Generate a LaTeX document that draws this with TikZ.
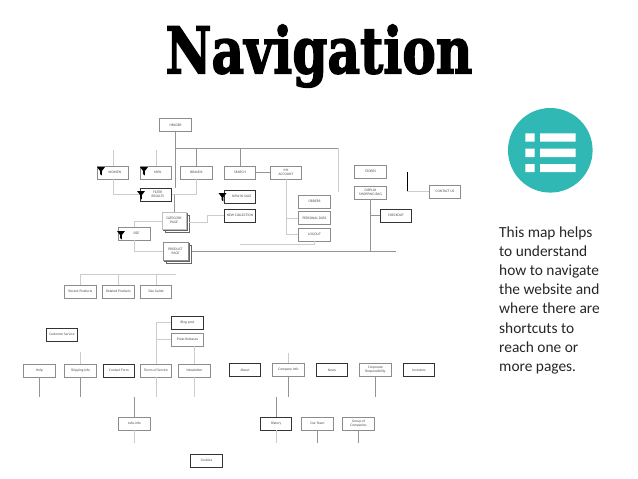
\documentclass[tikz,border=0pt]{standalone}
\usepackage{fontspec}
\setmainfont{Carlito}
\newfontfamily\titlefont[BoldFeatures={FakeBold=2.5}]{DejaVu Serif}
\usepackage{tikz}
\usetikzlibrary{positioning,calc}
\definecolor{tealround}{HTML}{30B8B5}

\tikzset{
	navbox/.style={shape=rectangle,draw=black!45,fill=white,line width=0.6pt,minimum width=31.5pt,minimum height=13pt,inner sep=0pt,align=center,font=\fontsize{3.6}{4}\selectfont,text=black!70},
	darkbox/.style={navbox,draw=black!80},
	link/.style={draw=black!42,line width=0.7pt},
	faint/.style={draw=black!20,line width=0.6pt},
	funnel/.pic={
		\fill[black] (-4,-4) -- (4,-4) -- (0.9,0) -- (0.9,4.5) -- (-0.9,3) -- (-0.9,0) -- cycle;
	}
}

\begin{document}
\begin{tikzpicture}[x=1pt,y=-1pt]
		\useasboundingbox (0,0) rectangle (638,479);

		\node[font=\titlefont\bfseries\fontsize{64}{64}\selectfont,xscale=0.785,transform shape] (title) at (319,56) {Navigation};

		% round icon
		\node[shape=circle,fill=tealround,minimum size=84.6pt,inner sep=0pt] (icon) at (550.3,150.3) {};
		\fill[white] (525.3,133.3) rectangle (534.7,141.7) (540,133.3) rectangle (575.7,141.7);
		\fill[white] (525.3,148.7) rectangle (534.7,157) (540,148.7) rectangle (575.7,157);
		\fill[white] (525.3,164) rectangle (534.7,172) (540,164) rectangle (575.7,172);

		\node[anchor=north west,align=left,inner sep=0pt,font=\fontsize{15.4}{19.15}\selectfont,text=black!85] (caption) at (499,226.5) {This map helps\\to understand\\how to navigate\\the website and\\where there are\\shortcuts to\\reach one or\\more pages.};

		% upper part
		\node[navbox] (header) at (175.5,125) {HEADER};
		\node[navbox] (women) at (113,172.5) {\quad WOMEN};
		\node[navbox] (men) at (156,172.5) {\quad MEN};
		\node[navbox] (brands) at (196.5,172.5) {BRANDS};
		\node[navbox] (search) at (240,172.5) {SEARCH};
		\node[navbox] (account) at (286,172.5) {MY\\ACCOUNT};
		\node[darkbox] (filter) at (156,194.5) {\quad FILTER\\\quad RESULTS};
		\node[darkbox] (sale) at (240,196.5) {\quad NEW IN SALE};
		\node[darkbox] (wishlist) at (240,215.5) {NEW COLLECTION};
		\node[navbox] (orders) at (314.5,201.5) {ORDERS};
		\node[navbox] (details) at (314.5,218) {PERSONAL DATA};
		\node[navbox] (logout) at (314.5,234.5) {LOGOUT};
		\node[navbox] (stores) at (370.5,171.5) {STORES};
		\node[navbox] (bag) at (370.5,192.5) {DISPLAY\\SHOPPING BAG};
		\node[darkbox] (checkout) at (396,215.5) {CHECKOUT};
		\node[navbox] (contact) at (445,191.5) {CONTACT US};
		\node[navbox] (size) at (134.5,233.5) {\quad SIZE};

		% page stacks
		\node[navbox,draw=black!60,minimum width=24pt,minimum height=17pt] (cat3) at (177,223.5) {};
		\node[navbox,draw=black!60,minimum width=24pt,minimum height=17pt] (cat2) at (175.5,222) {};
		\node[navbox,draw=black!25,minimum width=24pt,minimum height=17pt] (cat) at (174,220.5) {CATEGORY\\PAGE};
		\node[navbox,draw=black!60,minimum width=25pt,minimum height=18pt] (prod3) at (179,254) {};
		\node[navbox,draw=black!60,minimum width=25pt,minimum height=18pt] (prod2) at (177,252.5) {};
		\node[navbox,minimum width=25pt,minimum height=18pt] (prod) at (175.5,251) {PRODUCT\\PAGE};

		% free ends of the upper lines
		\coordinate (railL) at (175.5,148.3);
		\coordinate (railR) at (338.7,148.3);
		\coordinate (railE) at (338.7,191.7);
		\coordinate (topW) at (113,150);
		\coordinate (topM) at (156,150);
		\coordinate (prodE) at (396,251);
		\coordinate (stubL) at (240,244);
		\coordinate (stubR) at (314.5,244);
		\coordinate (barT) at (407,172);
		\coordinate (barB) at (407,191.5);
		\coordinate (catL) at (134.5,221);
		\coordinate (catR) at (207,222);
		\coordinate (catS) at (207,215.5);

		\draw[link] (header.south) -- (header.south |- filter.north);
		\draw[link] (railL) -- (railR);
		\draw[faint] (railR) -- (railE);
		\draw[faint] (women.north) -- (topW);
		\draw[faint] (men.north) -- (topM);
		\draw[link] (brands.north) -- (brands.north |- railL);
		\draw[link] (search.north) -- (search.north |- railL);
		\draw[link] (search) -- (account);
		\draw[faint] (women.south) |- (filter.west);
		\draw[faint] (brands.south) |- (filter.east);
		\draw[link] (cat.north) -- (cat.north |- filter.east);
		\draw[faint] (cat.west |- catL) -- (catL) -- (size.north);
		\draw[faint] (size.south) |- (prod.west);
		\draw[faint] (cat3.east |- catR) -- (catR) -- (catS) -- (wishlist.west);
		\draw[link] (prod3.east |- prodE) -- (prodE);
		\draw[link] (bag.south) -- (bag.south |- prodE);
		\draw[link] (checkout.west) -- (checkout.west -| bag.south);
		\draw[faint] (account.south) |- (logout.west);
		\draw[faint] (details.west) -- (details.west -| account.south);
		\draw[faint] (stubL) -- (stubR) -- (logout.south);
		\draw[black,line width=0.8pt] (barT) -- (barB);
		\draw[faint] (barB) -- (contact.west);

		% middle row
		\node[navbox] (bestsell) at (80.5,291.5) {Recent Products};
		\node[navbox] (related) at (118.5,291.5) {Related Products};
		\node[navbox] (viewed) at (156,291.5) {Size Guide};
		\coordinate (railM) at (176,274);
		\draw[faint] (bestsell.north) |- (railM);
		\draw[faint] (related.north) -- (related.north |- railM);
		\draw[faint] (viewed.north) -- (viewed.north |- railM);

		\node[darkbox] (sitemap) at (62,334.5) {Customer Service};
		\node[darkbox] (blog) at (187.5,322.5) {Blog post};
		\node[navbox] (press) at (187.5,339.5) {Press Releases};

		% bottom row
		\node[navbox] (help) at (39.5,370.5) {Help};
		\node[navbox] (shipping) at (80.5,370.5) {Shipping info};
		\node[darkbox] (returns) at (119,370.5) {Contact Form};
		\node[navbox] (company) at (156,370.5) {Terms of Service};
		\node[navbox] (careers) at (194.5,370.5) {Newsletter};
		\node[darkbox] (about) at (245,370) {About};
		\node[navbox] (legal) at (288.5,370) {Company Info};
		\node[darkbox] (news) at (332,370) {News};
		\node[navbox] (social) at (375.5,370) {Corporate\\Responsibility};
		\node[darkbox] (investor) at (419,370) {Investors};

		\node[navbox] (faq) at (134.5,423.5) {Jobs info};
		\node[darkbox] (history) at (276,423.5) {History};
		\node[navbox] (team) at (317.5,423.5) {Our Team};
		\node[navbox] (group) at (358.5,423.5) {Group of\\Companies};
		\node[darkbox] (terms) at (206.5,460.5) {Cookies};

		\coordinate (lowY) at (0,397);
		\coordinate (endY) at (0,442.5);
		\draw[faint] (blog.west) -- (blog.west -| company.north);
		\draw[faint] (press.west) -- (press.west -| company.north);
		\draw[faint] (company.north) -- (company.north |- blog.west);
		\draw[faint] (company.south) -- (company.south |- lowY);
		\draw[link] (help.south) -- (help.south |- lowY);
		\draw[faint] (shipping.north) -- ++(0,-12);
		\draw[link] (shipping.south) -- (shipping.south |- lowY);
		\draw[faint] (careers.north) -- (careers.north |- press.south);
		\draw[faint] (careers.south) -- (careers.south |- lowY);
		\draw[link] (faq.north) -- (faq.north |- lowY);
		\draw[faint] (faq.south) -- (faq.south |- endY);
		\draw[faint] (legal.north) -- ++(0,-10);
		\draw[link] (legal.south) -- (legal.south |- lowY);
		\draw[link] (social.south) -- (social.south |- lowY);
		\draw[link] (history.north) -- (history.north |- lowY);
		\draw[faint] (history.south) -- (history.south |- endY);
		\draw[link] (team.south) -- (team.south |- endY);
		\draw[link] (group.south) -- (group.south |- endY);

		% funnels sit over the box corners
		\pic at (101,171) {funnel};
		\pic at (144,171) {funnel};
		\pic at (141,195) {funnel};
		\pic at (222.5,197) {funnel};
		\pic at (121,235) {funnel};
	\end{tikzpicture}
\end{document}
